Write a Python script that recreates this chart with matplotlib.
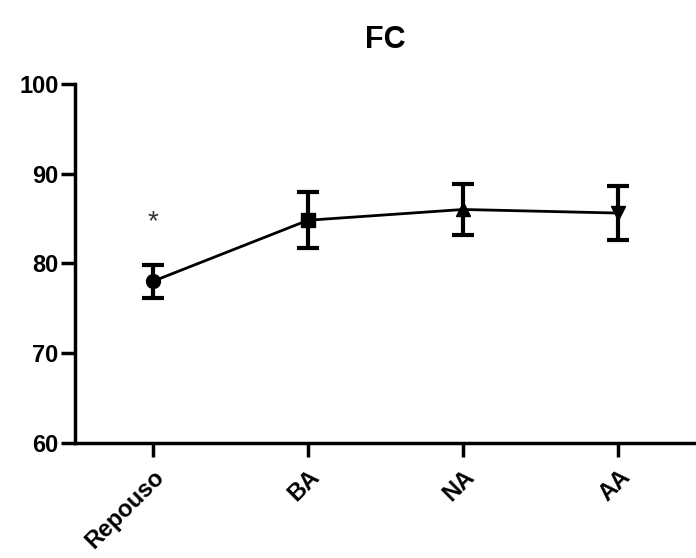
import matplotlib
matplotlib.use('Agg')
import matplotlib.pyplot as plt

plt.rcParams['font.family'] = ['Liberation Sans', 'DejaVu Sans']

# data
groups = ['Repouso', 'BA', 'NA', 'AA']
means = [78.0, 84.8, 86.0, 85.6]
errs = [1.8, 3.1, 2.8, 3.0]
markers = ['o', 's', '^', 'v']
yticks = [60, 70, 80, 90, 100]

fig = plt.figure(figsize=(6.96, 5.58), dpi=100)
ax = fig.add_axes([0.108, 0.206, 0.892, 0.644])

x = list(range(len(groups)))
ax.plot(x, means, color='black', lw=2, zorder=2)
ax.errorbar(x, means, yerr=errs, fmt='none', ecolor='black', elinewidth=3,
            capsize=8, capthick=3, zorder=3)
for xi, m, mk in zip(x, means, markers):
    ax.plot(xi, m, marker=mk, color='black', ms=10, zorder=4)

# significance mark over Repouso
ax.text(0, 84.6, '*', ha='center', va='center', fontsize=20, color='#333333')

ax.set_xlim(-0.5, 3.5)
ax.set_ylim(60, 100)
ax.set_yticks(yticks)
ax.set_xticks(x)
ax.set_xticklabels(groups, rotation=45, ha='right', rotation_mode='anchor',
                   fontsize=17, fontweight='bold')
for lab in ax.get_yticklabels():
    lab.set_fontsize(17)
    lab.set_fontweight('bold')

ax.spines['top'].set_visible(False)
ax.spines['right'].set_visible(False)
ax.spines['left'].set_linewidth(2.5)
ax.spines['bottom'].set_linewidth(2.5)
ax.tick_params(direction='out', length=10, width=2.5, pad=2)
ax.tick_params(axis='x', pad=6)

ax.set_title('FC', fontsize=22, fontweight='bold', pad=26)

fig.savefig('out.png', dpi=100)
